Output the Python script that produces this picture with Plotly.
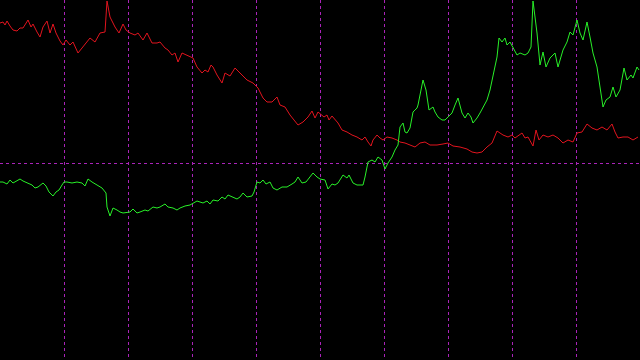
import plotly.graph_objects as go

# Series values (x = time position, y = level; axis drawn top-down)
red_x = [0,3,5,7,10,13,17,20,23,28,31,33,37,40,43,47,50,53,56,60,63,66,70,73,78,83,90,95,100,105,107,110,115,119,123,126,130,135,138,143,147,152,157,160,165,168,172,175,178,182,187,190,193,197,202,205,208,211,213,217,222,225,230,235,240,247,253,258,263,267,272,277,280,285,290,295,298,303,308,312,315,318,322,324,327,329,332,335,338,342,347,352,357,362,365,368,371,373,377,380,383,387,392,397,400,405,410,415,420,425,430,437,443,448,453,460,467,472,477,482,487,492,497,500,503,508,512,515,518,522,525,528,533,536,539,543,548,553,558,563,568,573,577,582,587,592,597,602,607,612,615,618,623,628,633,638]
red_y = [23,22,25,21,26,30,31,28,28,20,27,24,32,37,27,21,33,24,33,41,45,40,45,42,53,47,38,42,33,32,1,17,27,33,24,30,33,35,33,40,33,43,43,42,48,50,55,53,62,53,55,57,58,67,73,70,72,65,67,75,83,73,76,68,73,80,83,88,98,102,102,97,105,107,115,122,125,122,117,111,118,112,115,117,115,120,116,120,123,130,132,135,137,140,137,142,146,140,135,138,140,137,138,140,142,143,145,147,143,142,145,145,144,143,146,147,149,152,153,152,147,143,131,133,135,137,135,138,136,133,138,137,146,130,140,135,137,135,138,143,140,142,133,132,124,128,130,127,130,124,132,138,137,137,140,137]

green_x = [0,3,7,10,13,17,20,23,27,32,35,38,43,46,49,53,56,59,62,64,67,72,77,82,85,88,92,97,102,106,107,110,113,117,120,123,127,130,133,137,140,145,148,153,157,160,165,168,173,177,180,185,190,193,197,200,203,207,210,213,218,222,225,228,233,237,240,243,247,252,254,257,260,263,266,270,273,277,282,287,292,295,298,302,306,310,313,317,320,325,328,332,335,338,343,347,349,353,357,360,363,365,368,372,375,378,382,385,388,392,395,398,400,403,405,407,410,413,417,418,420,423,426,429,433,435,438,442,445,448,452,455,458,462,465,468,471,473,477,480,483,487,490,493,497,499,502,505,507,510,513,517,520,525,528,531,533,537,540,543,546,550,555,558,563,567,570,573,577,580,583,587,590,593,597,600,603,606,610,613,616,620,624,627,631,633,637,639]
green_y = [182,182,184,180,183,181,179,181,183,185,188,187,183,186,192,196,192,190,185,182,182,183,182,183,186,179,182,185,188,193,207,216,208,210,212,213,212,212,209,213,212,210,211,207,208,207,204,207,208,210,208,206,205,203,201,202,203,201,204,200,201,197,199,195,197,199,197,193,197,196,192,182,183,180,184,182,188,190,187,187,184,182,177,183,182,177,173,177,179,180,189,184,185,183,175,178,175,183,185,185,185,177,162,160,162,157,160,169,163,157,150,145,127,123,132,133,128,112,108,105,95,80,90,110,107,112,117,120,120,117,113,105,98,113,118,113,117,123,118,113,108,100,90,77,57,38,42,38,45,42,48,55,53,55,53,47,1,33,65,52,67,58,53,67,50,42,32,35,20,33,40,22,37,53,67,87,107,100,97,87,97,90,68,80,75,78,67,70]

# Reference levels / grid
x_range = [0, 640]
y_range = [360, 0]
grid_step = 64
ref_level = [163]

fig = go.Figure()
fig.add_trace(go.Scatter(x=red_x, y=red_y, mode="lines",
                         line=dict(color="rgb(225,20,30)", width=1), hoverinfo="skip"))
fig.add_trace(go.Scatter(x=green_x, y=green_y, mode="lines",
                         line=dict(color="rgb(40,240,40)", width=1), hoverinfo="skip"))

grid_color = "rgb(170,35,185)"
fig.update_layout(
    width=640, height=360,
    margin=dict(l=0, r=0, t=0, b=0),
    paper_bgcolor="black", plot_bgcolor="black",
    showlegend=False,
    xaxis=dict(range=x_range, tick0=0, dtick=grid_step, showgrid=True,
               gridcolor=grid_color, griddash="dot", gridwidth=1,
               showticklabels=False, zeroline=False, showline=False, ticks=""),
    yaxis=dict(range=y_range, tickvals=ref_level, showgrid=True,
               gridcolor=grid_color, griddash="dot", gridwidth=1,
               showticklabels=False, zeroline=False, showline=False, ticks=""),
)

fig.write_html("out.html")
